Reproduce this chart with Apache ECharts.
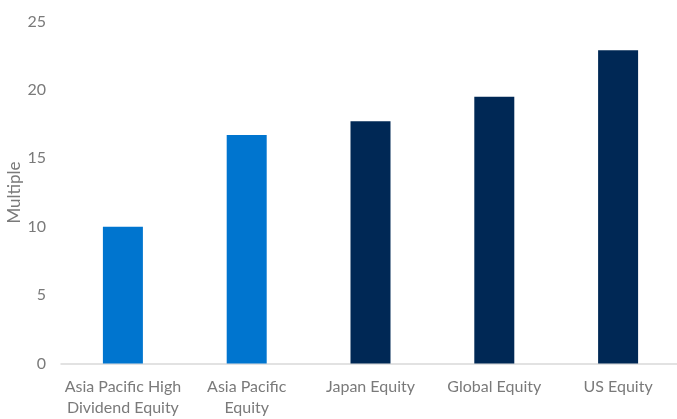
<!DOCTYPE html>
<html>
<head>
<meta charset="utf-8">
<script src="https://cdn.jsdelivr.net/npm/echarts@6/dist/echarts.min.js"></script>
<style>html,body{margin:0;padding:0;background:#fff}#c{width:677px;height:419px}</style>
</head>
<body>
<div id="c"></div>
<script>
const categories = ['Asia Pacific High\nDividend Equity', 'Asia Pacific\nEquity', 'Japan Equity', 'Global Equity', 'US Equity'];
const values = [10.0, 16.7, 17.7, 19.5, 22.9];
const barColors = ['#0075CF', '#0075CF', '#002855', '#002855', '#002855'];
const yTicks = {min: 0, max: 25, interval: 5};
const yName = 'Multiple';

const chart = echarts.init(document.getElementById('c'), null, {renderer: 'canvas'});
const font = 'Lato';
chart.setOption({
  animation: false,
  grid: {left: 61, top: 21.5, width: 619, bottom: 55.5, containLabel: false, outerBoundsMode: 'none'},
  xAxis: {
    type: 'category',
    data: categories,
    axisLine: {show: true, lineStyle: {color: '#d9d9d9', width: 1.5}},
    axisTick: {show: false},
    axisLabel: {color: '#7a7a7a', fontSize: 16, fontFamily: font, margin: 13, lineHeight: 21, interval: 0}
  },
  yAxis: {
    type: 'value',
    min: yTicks.min, max: yTicks.max, interval: yTicks.interval,
    name: yName,
    nameLocation: 'middle',
    nameGap: 38,
    nameMoveOverlap: false,
    nameTextStyle: {color: '#7a7a7a', fontSize: 17, fontFamily: font},
    axisLine: {show: false},
    axisTick: {show: false},
    splitLine: {show: false},
    axisLabel: {color: '#7a7a7a', fontSize: 16, fontFamily: font, margin: 15}
  },
  series: [{
    type: 'bar',
    barWidth: 40,
    data: values.map((v, i) => ({value: v, itemStyle: {color: barColors[i]}})),
    z: 1
  }]
});
</script>
</body>
</html>
